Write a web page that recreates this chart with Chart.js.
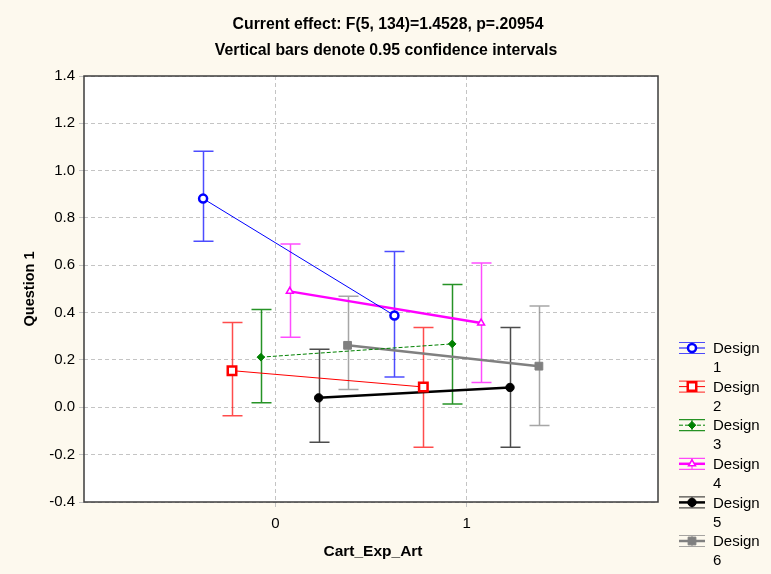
<!DOCTYPE html>
<html>
<head>
<meta charset="utf-8">
<script src="https://cdn.jsdelivr.net/npm/chart.js@4/dist/chart.umd.min.js"></script>
<style>
  body { margin: 0; background: #fdf9ee; }
  #wrap { width: 771px; height: 574px; }
</style>
</head>
<body>
<div id="wrap"><canvas id="chart" width="771" height="574"></canvas></div>
<script>
// values
const categories = [0, 1];
const xTickLabels = ['0', '1'];
const yTicks = [-0.4, -0.2, 0, 0.2, 0.4, 0.6, 0.8, 1.0, 1.2, 1.4];
const designNames = ['Design 1', 'Design 2', 'Design 3', 'Design 4', 'Design 5', 'Design 6'];
const means = [[0.882, 0.388], [0.155, 0.086], [0.212, 0.268], [0.490, 0.356], [0.040, 0.084], [0.262, 0.174]];
const lower = [[0.702, 0.128], [-0.036, -0.169], [0.019, 0.014], [0.296, 0.105], [-0.148, -0.169], [0.075, -0.077]];
const upper = [[1.082, 0.658], [0.358, 0.337], [0.413, 0.519], [0.690, 0.610], [0.245, 0.337], [0.469, 0.428]];
const titleLines = ['Current effect: F(5, 134)=1.4528, p=.20954', 'Vertical bars denote 0.95 confidence intervals'];
const xTitle = 'Cart_Exp_Art';
const yTitle = 'Question 1';

// look of each design
const colors = ['#0000ff', '#ff0000', '#008000', '#ff00ff', '#000000', '#808080'];
const barColors = ['rgba(0,0,255,0.7)', 'rgba(255,0,0,0.7)', 'rgba(0,128,0,0.85)', 'rgba(255,0,255,0.7)', 'rgba(0,0,0,0.7)', 'rgba(128,128,128,0.7)'];
const markers = ['circle', 'rect', 'rectRot', 'triangle', 'circle', 'rect'];
const markerSize = [4, 6, 3.8, 4, 4.2, 5.5];
const hollow = [true, true, false, true, false, false];
const markerBorder = [2.5, 2.5, 1, 1.5, 1, 1];
const lineWidths = [1, 1, 1, 2.5, 2.5, 2.5];
const dashes = [[], [], [4, 2], [], [], []];

const FONT = '"Liberation Sans", Arial, sans-serif';
const dodge = i => (i - 2.5) * 0.151;

const datasets = designNames.map((name, i) => ({
  label: name,
  data: categories.map((c, j) => ({ x: c + dodge(i), y: means[i][j] })),
  borderColor: colors[i],
  borderWidth: lineWidths[i],
  borderDash: dashes[i],
  pointStyle: markers[i],
  pointRadius: markerSize[i],
  pointBackgroundColor: hollow[i] ? '#ffffff' : colors[i],
  pointBorderColor: colors[i],
  pointBorderWidth: markerBorder[i],
  tension: 0,
  fill: false
}));

function marker(ctx, i, x, y) {
  ctx.save();
  ctx.setLineDash([]);
  ctx.fillStyle = hollow[i] ? '#ffffff' : colors[i];
  ctx.strokeStyle = colors[i];
  ctx.lineWidth = markerBorder[i];
  const r = markerSize[i];
  ctx.beginPath();
  if (markers[i] === 'circle') {
    ctx.arc(x, y, r, 0, Math.PI * 2);
  } else if (markers[i] === 'rect') {
    const s = r * Math.SQRT1_2;
    ctx.rect(x - s, y - s, 2 * s, 2 * s);
  } else if (markers[i] === 'rectRot') {
    ctx.moveTo(x, y - r); ctx.lineTo(x + r, y); ctx.lineTo(x, y + r); ctx.lineTo(x - r, y); ctx.closePath();
  } else {
    ctx.moveTo(x, y - r); ctx.lineTo(x + r * 0.87, y + r * 0.5); ctx.lineTo(x - r * 0.87, y + r * 0.5); ctx.closePath();
  }
  ctx.fill();
  ctx.stroke();
  ctx.restore();
}

const decor = {
  id: 'decor',
  beforeDraw(chart) {
    const { ctx, chartArea: a } = chart;
    ctx.save();
    ctx.fillStyle = '#fdf9ee';
    ctx.fillRect(0, 0, chart.width, chart.height);
    ctx.fillStyle = '#ffffff';
    ctx.fillRect(a.left, a.top, a.right - a.left, a.bottom - a.top);
    ctx.restore();
  },
  beforeDatasetsDraw(chart) {
    // confidence interval bars
    const { ctx, scales: { x, y } } = chart;
    ctx.save();
    ctx.lineWidth = 1.5;
    designNames.forEach((n, i) => {
      ctx.strokeStyle = barColors[i];
      categories.forEach((c, j) => {
        const px = Math.round(x.getPixelForValue(c + dodge(i))) + 0.5;
        const lo = y.getPixelForValue(lower[i][j]);
        const hi = y.getPixelForValue(upper[i][j]);
        ctx.beginPath();
        ctx.moveTo(px, lo); ctx.lineTo(px, hi);
        ctx.moveTo(px - 10, lo); ctx.lineTo(px + 10, lo);
        ctx.moveTo(px - 10, hi); ctx.lineTo(px + 10, hi);
        ctx.stroke();
      });
    });
    ctx.restore();
  },
  afterDraw(chart) {
    const { ctx, chartArea: a } = chart;
    ctx.save();
    // plot frame
    ctx.strokeStyle = '#3c3c3c';
    ctx.lineWidth = 1.5;
    ctx.strokeRect(a.left, a.top, a.right - a.left, a.bottom - a.top);

    // titles
    ctx.fillStyle = '#000';
    ctx.textAlign = 'center';
    ctx.textBaseline = 'middle';
    ctx.font = 'bold 15.8px ' + FONT;
    ctx.fillText(titleLines[0], 388, 25);
    ctx.fillText(titleLines[1], 386, 51);
    ctx.font = 'bold 15.5px ' + FONT;
    ctx.fillText(xTitle, 373, 552);
    ctx.save();
    ctx.translate(30, (a.top + a.bottom) / 2);
    ctx.rotate(-Math.PI / 2);
    ctx.font = 'bold 14.5px ' + FONT;
    ctx.fillText(yTitle, 0, 0);
    ctx.restore();

    // legend
    ctx.textAlign = 'left';
    ctx.font = '15px ' + FONT;
    designNames.forEach((name, i) => {
      const cy = 348 + i * 38.6;
      const x0 = 679, x1 = 705, xm = 692;
      ctx.strokeStyle = barColors[i];
      ctx.lineWidth = 1.2;
      ctx.setLineDash([]);
      ctx.beginPath();
      ctx.moveTo(x0, cy - 5.5); ctx.lineTo(x1, cy - 5.5);
      ctx.moveTo(x0, cy + 5.5); ctx.lineTo(x1, cy + 5.5);
      ctx.moveTo(xm, cy - 5.5); ctx.lineTo(xm, cy + 5.5);
      ctx.stroke();
      ctx.strokeStyle = colors[i];
      ctx.lineWidth = lineWidths[i];
      ctx.setLineDash(dashes[i]);
      ctx.beginPath();
      ctx.moveTo(x0, cy); ctx.lineTo(x1, cy);
      ctx.stroke();
      marker(ctx, i, xm, cy);
      ctx.fillStyle = '#000';
      const parts = name.split(' ');
      ctx.fillText(parts[0], 713, cy + 1);
      ctx.fillText(parts[1], 713, cy + 20);
    });
    ctx.restore();
  }
};

new Chart(document.getElementById('chart'), {
  type: 'line',
  data: { datasets },
  plugins: [decor],
  options: {
    responsive: false,
    animation: false,
    layout: { padding: { top: 76, right: 113, left: 0, bottom: 0 } },
    plugins: { legend: { display: false }, title: { display: false }, tooltip: { enabled: false } },
    scales: {
      x: {
        type: 'linear',
        min: -1,
        max: 2,
        afterBuildTicks: s => { s.ticks = categories.map(v => ({ value: v })); },
        afterFit: s => { s.height = 72; },
        ticks: {
          callback: (v, idx) => xTickLabels[idx],
          color: '#000',
          font: { family: FONT, size: 15 },
          padding: 8,
          maxRotation: 0
        },
        grid: { color: '#c4c4c4', tickLength: 5, tickColor: '#c4c4c4' },
        border: { display: false, dash: [4, 3] }
      },
      y: {
        min: -0.4,
        max: 1.4,
        afterBuildTicks: s => { s.ticks = yTicks.map(v => ({ value: v })); },
        afterFit: s => { s.width = 84; },
        ticks: {
          callback: v => v.toFixed(1),
          color: '#000',
          font: { family: FONT, size: 15 },
          padding: 4
        },
        grid: { color: '#c4c4c4', tickLength: 5, tickColor: '#c4c4c4' },
        border: { display: false, dash: [4, 3] }
      }
    }
  }
});
</script>
</body>
</html>
